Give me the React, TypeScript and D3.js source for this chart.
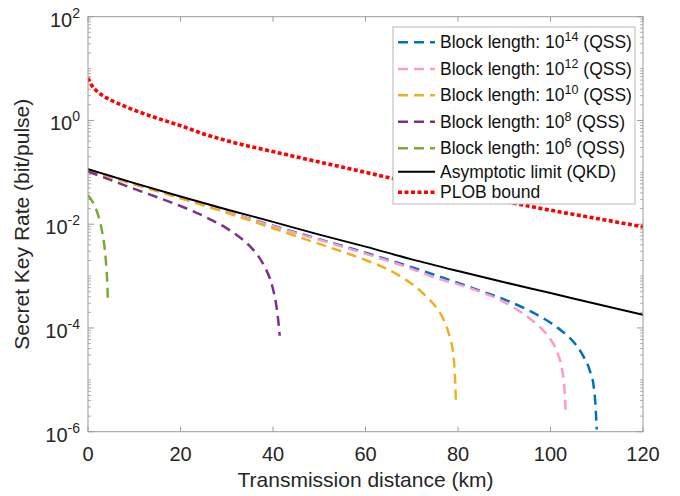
import * as d3 from 'd3'

// values (km, bit/pulse)
const kmPlob = [0, 1, 2, 3, 5, 7.5, 10, 15, 20, 25, 30, 40, 50, 60, 70, 80, 90, 100, 110, 120]
const ratePlob = [6.61, 4.47, 3.63, 3.09, 2.45, 1.95, 1.58, 1.1, 0.794, 0.55, 0.407, 0.251, 0.158, 0.1, 0.063, 0.0417, 0.0275, 0.0186, 0.0129, 0.0089]

const kmQkd = [0, 10, 20, 30, 40, 50, 60, 70, 80, 90, 100, 110, 120]
const rateQkd = [0.115, 0.062, 0.0342, 0.0192, 0.0111, 0.0063, 0.0037, 0.0021, 0.00125, 0.00076, 0.00047, 0.00029, 0.00018]

const km14 = [0, 10, 20, 30, 40, 50, 60, 70, 75, 80, 85, 90, 95, 100, 103, 105, 107, 108.5, 109.3, 109.7, 110]
const rate14 = [0.1122, 0.0603, 0.0324, 0.0174, 0.00933, 0.00513, 0.00282, 0.00148, 0.00105, 0.00074, 0.000513, 0.000355, 0.000224, 0.000126, 0.0000794, 0.0000537, 0.0000295, 0.0000151, 0.0000079, 0.0000035, 0.0000011]

const km12 = [0, 10, 20, 30, 40, 50, 60, 70, 75, 80, 85, 90, 93, 96, 98, 100, 101.5, 102.5, 103, 103.3]
const rate12 = [0.1122, 0.0603, 0.0324, 0.0174, 0.00912, 0.00501, 0.00269, 0.00138, 0.000933, 0.000692, 0.00049, 0.000316, 0.000219, 0.000141, 0.0000977, 0.0000603, 0.0000331, 0.0000158, 0.0000071, 0.0000023]

const km10 = [0, 10, 20, 30, 40, 45, 50, 55, 60, 65, 68, 71, 73, 75, 76.5, 77.5, 78.3, 78.9, 79.2, 79.4, 79.55]
const rate10 = [0.111, 0.0589, 0.0316, 0.0166, 0.00832, 0.00589, 0.00417, 0.00295, 0.00204, 0.00132, 0.000933, 0.000603, 0.000417, 0.000269, 0.00017, 0.000107, 0.000063, 0.0000355, 0.0000191, 0.0000089, 0.0000035]

const km8 = [0, 5, 10, 15, 20, 24, 27, 30, 32, 34, 35.5, 37, 38.3, 39.3, 40, 40.6, 41, 41.3, 41.45]
const rate8 = [0.1035, 0.0708, 0.0479, 0.0331, 0.0224, 0.0158, 0.0117, 0.00832, 0.00631, 0.00457, 0.00339, 0.00229, 0.00145, 0.000912, 0.000562, 0.000316, 0.000178, 0.0001, 0.0000708]

const km6 = [0, 1, 2, 3, 3.6, 4, 4.2, 4.3]
const rate6 = [0.0363, 0.0269, 0.017, 0.00759, 0.00347, 0.00132, 0.00063, 0.00032]

const xTicks = [0, 20, 40, 60, 80, 100, 120]
const yLabelPowers = [2, 0, -2, -4, -6]
const blockExps = ['14', '12', '10', '8', '6']

const W = 680
const H = 496
const plot = { left: 88, right: 643, top: 16.7, bottom: 431.7 }
const FONT = '"Liberation Sans", Arial, Helvetica, sans-serif'

const x = d3.scaleLinear().domain([0, 120]).range([plot.left, plot.right])
const y = d3.scaleLog().domain([1e-6, 1e2]).range([plot.bottom, plot.top])

const zip = (km: number[], r: number[]) => km.map((k, i) => [k, r[i]] as [number, number])

const series = [
  { name: '14', pts: zip(km14, rate14), color: '#0072BD', dash: '10,6', width: 2.5 },
  { name: '12', pts: zip(km12, rate12), color: '#FF99CC', dash: '10,6', width: 2.5 },
  { name: '10', pts: zip(km10, rate10), color: '#EDB120', dash: '10,6', width: 2.5 },
  { name: '8', pts: zip(km8, rate8), color: '#7E2F8E', dash: '10,6', width: 2.5 },
  { name: '6', pts: zip(km6, rate6), color: '#77AC30', dash: '10,6', width: 2.5 },
  { name: 'qkd', pts: zip(kmQkd, rateQkd), color: '#000000', dash: null, width: 2 },
  { name: 'plob', pts: zip(kmPlob, ratePlob), color: '#FF0000', dash: '4,2.5', width: 3.6 },
]

const line = d3.line<[number, number]>()
  .x(d => x(d[0]))
  .y(d => y(d[1]))
  .curve(d3.curveMonotoneX)

// minor ticks: every decade and 2..9 in between, majors at even powers
const minorTicks: number[] = []
for (let p = -6; p < 2; p++) {
  for (let m = 1; m < 10; m++) {
    if (m === 1 && p % 2 === 0) continue
    minorTicks.push(m * Math.pow(10, p))
  }
}

const legendRows = [42.3, 69, 95.3, 121.7, 148.3, 171.7, 192.3]

export default function App() {
  const axisColor = '#9a9a9a'
  const textColor = '#262626'
  return (
    <svg width={W} height={H} style={{ position: 'absolute', left: 0, top: 0, background: '#fff' }}
      fontFamily={FONT}>
      <defs>
        <clipPath id="plotClip">
          <rect x={plot.left} y={plot.top} width={plot.right - plot.left} height={plot.bottom - plot.top} />
        </clipPath>
      </defs>

      <rect x={plot.left} y={plot.top} width={plot.right - plot.left} height={plot.bottom - plot.top}
        fill="#fff" />

      {/* ticks */}
      {xTicks.map(t => (
        <g key={'xt' + t}>
          <line x1={x(t)} x2={x(t)} y1={plot.bottom} y2={plot.bottom - 5} stroke={axisColor} />
          <line x1={x(t)} x2={x(t)} y1={plot.top} y2={plot.top + 5} stroke={axisColor} />
          <text x={x(t)} y={461} textAnchor="middle" fontSize={20} fill={textColor}>{t}</text>
        </g>
      ))}
      {minorTicks.map((v, i) => (
        <g key={'ym' + i}>
          <line x1={plot.left} x2={plot.left + 3} y1={y(v)} y2={y(v)} stroke={axisColor} strokeWidth={0.8} />
          <line x1={plot.right} x2={plot.right - 3} y1={y(v)} y2={y(v)} stroke={axisColor} strokeWidth={0.8} />
        </g>
      ))}
      {yLabelPowers.map(p => (
        <g key={'yt' + p}>
          <line x1={plot.left} x2={plot.left + 6} y1={y(Math.pow(10, p))} y2={y(Math.pow(10, p))} stroke={axisColor} />
          <line x1={plot.right} x2={plot.right - 6} y1={y(Math.pow(10, p))} y2={y(Math.pow(10, p))} stroke={axisColor} />
          <text x={80} y={y(Math.pow(10, p)) + 10} textAnchor="end" fontSize={20} fill={textColor}>
            10<tspan fontSize={14} dy={-9}>{p}</tspan>
          </text>
        </g>
      ))}

      {/* curves */}
      <g clipPath="url(#plotClip)">
        {series.map(s => (
          <path key={s.name} d={line(s.pts) || ''} fill="none" stroke={s.color}
            strokeWidth={s.width} strokeDasharray={s.dash || undefined} />
        ))}
      </g>

      {/* frame */}
      <rect x={plot.left} y={plot.top} width={plot.right - plot.left} height={plot.bottom - plot.top}
        fill="none" stroke={axisColor} strokeWidth={1} />

      {/* legend */}
      <rect x={393} y={27} width={242} height={177} fill="#fff" stroke="#b8b8b8" strokeWidth={1} />
      {series.map((s, i) => (
        <g key={'lg' + s.name}>
          <line x1={398} x2={435} y1={legendRows[i]} y2={legendRows[i]} stroke={s.color}
            strokeWidth={s.width} strokeDasharray={s.dash || undefined} />
          <text x={440} y={legendRows[i] + 6} fontSize={17.5} fill="#111">
            {i < 5 ? (
              <>
                Block length: 10<tspan fontSize={12.5} dy={-7}>{blockExps[i]}</tspan>
                <tspan dy={7}> (QSS)</tspan>
              </>
            ) : i === 5 ? 'Asymptotic limit (QKD)' : 'PLOB bound'}
          </text>
        </g>
      ))}

      {/* axis labels */}
      <text x={(plot.left + plot.right) / 2} y={487} textAnchor="middle" fontSize={21} fill={textColor}>
        Transmission distance (km)
      </text>
      <text transform={`translate(29,${(plot.top + plot.bottom) / 2}) rotate(-90)`} textAnchor="middle"
        fontSize={21} fill={textColor}>
        Secret Key Rate (bit/pulse)
      </text>
    </svg>
  )
}
